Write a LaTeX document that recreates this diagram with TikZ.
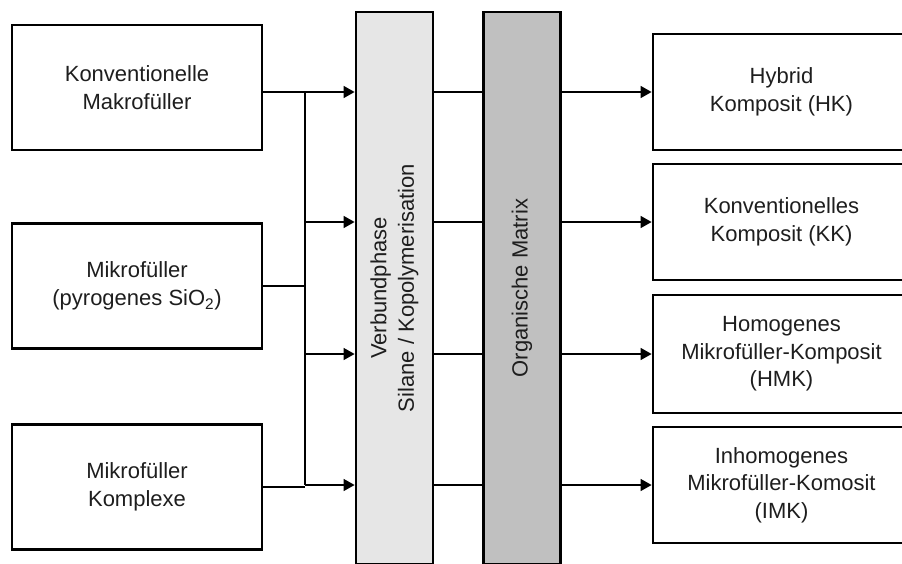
\documentclass[tikz,border=0pt]{standalone}
\usepackage{fontspec}
\setmainfont{Liberation Sans}
\usetikzlibrary{arrows.meta}
\definecolor{lightbar}{HTML}{E6E6E6}
\definecolor{darkbar}{HTML}{C0C0C0}
\definecolor{ink}{HTML}{1E1E1E}
\begin{document}
\begin{tikzpicture}[x=1pt,y=-1pt,
  box/.style={draw,line width=2.8pt,minimum width=250pt,minimum height=125pt,
    align=center,inner sep=0pt,text=ink,font=\fontsize{22}{27.5}\selectfont},
  outbox/.style={box,minimum width=257pt,minimum height=116pt},
  bar/.style={draw,line width=2.8pt,minimum width=77pt,minimum height=552pt,inner sep=0pt},
  barlabel/.style={rotate=90,align=center,text=ink,font=\fontsize{22}{27.5}\selectfont},
  lnk/.style={line width=1.4pt},
  arr/.style={lnk,-{Triangle[length=11pt,width=12pt]}}]
\clip (0,0) rectangle (902,563);
\fill[white] (0,0) rectangle (902,563);

% fillers
\node[box] (km) at (137,87.5) {Konventionelle\\Makrofüller};
\node[box] (mf) at (137,286) {Mikrofüller\\(pyrogenes SiO\textsubscript{2})};
\node[box] (mk) at (137,487) {Mikrofüller\\Komplexe};

% the two phases
\node[bar,fill=lightbar] (vb) at (394.5,288) {};
\node[bar,fill=darkbar] (om) at (522,288) {};
\node[barlabel] (vbtxt) at (vb) {Verbundphase\\Silane / Kopolymerisation};
\node[barlabel] (omtxt) at (om) {Organische Matrix};

% composites
\node[outbox] (hk) at (781.5,92) {Hybrid\\Komposit (HK)};
\node[outbox] (kk) at (781.5,222) {Konventionelles\\Komposit (KK)};
\node[outbox,minimum height=118pt] (hmk) at (781.5,354) {Homogenes\\Mikrofüller-Komposit\\(HMK)};
\node[outbox] (imk) at (781.5,485) {Inhomogenes\\Mikrofüller-Komosit\\(IMK)};

\coordinate (bus) at (305,0);
\draw[lnk] (km.east |- hk) -- (bus |- hk);
\draw[lnk] (mf.east) -- (mf.east -| bus);
\draw[lnk] (mk.east) -- (mk.east -| bus);
\draw[lnk] (bus |- hk) -- (bus |- imk);

\foreach \r in {hk,kk,hmk,imk} {
  \draw[arr] (bus |- \r) -- (vb.west |- \r);
  \draw[lnk] (vb.east |- \r) -- (om.west |- \r);
  \draw[arr] (om.east |- \r) -- (\r.west);
}
\end{tikzpicture}
\end{document}
